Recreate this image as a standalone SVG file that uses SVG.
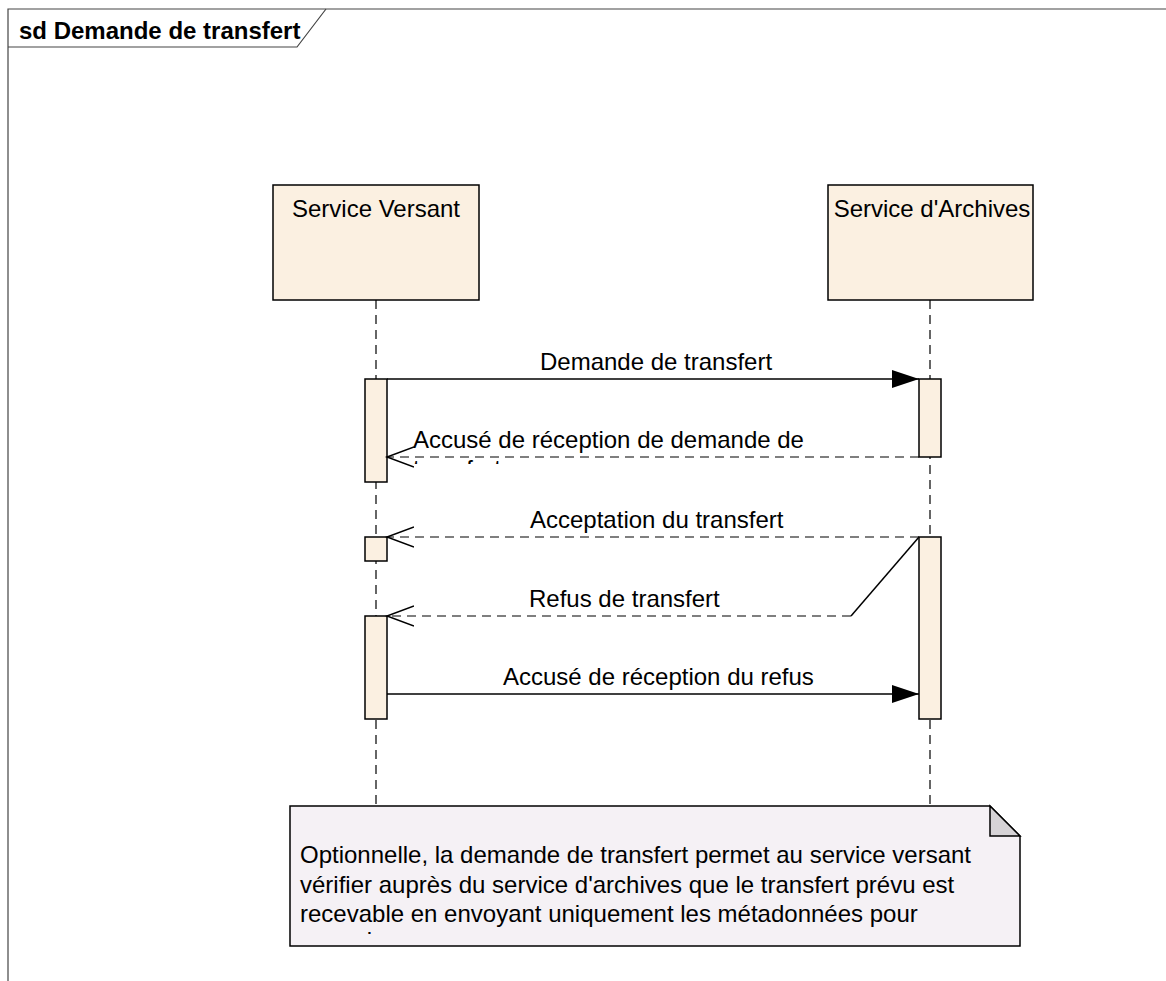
<svg xmlns="http://www.w3.org/2000/svg" width="1166" height="981" viewBox="0 0 1166 981">
<style>
text{font-family:"Liberation Sans",Arial,sans-serif;fill:#000}
.lbl{font-size:24px}
.title{font-size:24px;font-weight:bold}
.life{fill:#FBF0E1;stroke:#000;stroke-width:1.5}
.act{fill:#FBF0E1;stroke:#000;stroke-width:1.5}
.dash{stroke:#000;stroke-width:1.2;stroke-dasharray:9,6;fill:none}
.solid{stroke:#000;stroke-width:1.5;fill:none}
</style>
<defs>
<marker id="filled" markerWidth="28" markerHeight="20" refX="27" refY="9" orient="auto" markerUnits="userSpaceOnUse">
<path d="M0,0 L27,9 L0,18 Z" fill="#000"/>
</marker>
<marker id="openhead" markerWidth="30" markerHeight="24" refX="27" refY="11" orient="auto" markerUnits="userSpaceOnUse">
<path d="M0,1 L27,11 L0,21" fill="none" stroke="#000" stroke-width="1.5"/>
</marker>
<clipPath id="clipMsg"><rect x="380" y="440" width="540" height="24"/></clipPath>
<clipPath id="clipNote"><rect x="290" y="840" width="730" height="94"/></clipPath>
</defs>
<rect width="1166" height="981" fill="#fff"/>
<g id="frame">
<path d="M8,981 L8,9 L1166,9" fill="none" stroke="#444" stroke-width="1.2"/>
<path d="M8,47 L297,47 L326,9" fill="none" stroke="#444" stroke-width="1.2"/>
<text class="title" x="19" y="39">sd Demande de transfert</text>
</g>
<g id="lifeline-versant">
<rect class="life" x="273" y="185" width="206" height="115"/>
<text class="lbl" x="376" y="217" text-anchor="middle">Service Versant</text>
<line class="dash" x1="376" y1="300" x2="376" y2="806"/>
</g>
<g id="lifeline-archives">
<rect class="life" x="828" y="185" width="205" height="115"/>
<text class="lbl" x="932" y="217" text-anchor="middle">Service d'Archives</text>
<line class="dash" x1="930" y1="300" x2="930" y2="806"/>
</g>
<g id="activations">
<rect class="act" x="365" y="379" width="22" height="103"/>
<rect class="act" x="919" y="379" width="22" height="78"/>
<rect class="act" x="365" y="537" width="22" height="24"/>
<rect class="act" x="919" y="537" width="22" height="182"/>
<rect class="act" x="365" y="616" width="22" height="103"/>
</g>
<g id="connectors">
<line class="solid" x1="387" y1="379" x2="919" y2="379" marker-end="url(#filled)"/>
<line class="dash" x1="919" y1="457" x2="387" y2="457" marker-end="url(#openhead)"/>
<line class="dash" x1="919" y1="537" x2="387" y2="537" marker-end="url(#openhead)"/>
<path class="dash" d="M851,616 L387,616" marker-end="url(#openhead)"/>
<line class="solid" x1="919" y1="537" x2="851" y2="616"/>
<line class="solid" x1="387" y1="694" x2="919" y2="694" marker-end="url(#filled)"/>
<text class="lbl" x="540" y="370">Demande de transfert</text>
<text class="lbl" x="413" y="448">Accusé de réception de demande de</text>
<text class="lbl" x="413" y="477" clip-path="url(#clipMsg)">transfert</text>
<text class="lbl" x="530" y="528">Acceptation du transfert</text>
<text class="lbl" x="529" y="607">Refus de transfert</text>
<text class="lbl" x="503" y="685">Accusé de réception du refus</text>
</g>
<g id="note">
<path d="M290,806 L990,806 L1020,836 L1020,946 L290,946 Z" fill="#F5F1F5" stroke="#000" stroke-width="1.5"/>
<path d="M990,806 L990,836 L1020,836 Z" fill="#D6D3D6" stroke="#000" stroke-width="1.5"/>
<g clip-path="url(#clipNote)">
<text class="lbl" x="300" y="863">Optionnelle, la demande de transfert permet au service versant</text>
<text class="lbl" x="300" y="893">vérifier auprès du service d'archives que le transfert prévu est</text>
<text class="lbl" x="300" y="922">recevable en envoyant uniquement les métadonnées pour</text>
<text class="lbl" x="300" y="949">accord.</text>
</g>
</g>
</svg>
